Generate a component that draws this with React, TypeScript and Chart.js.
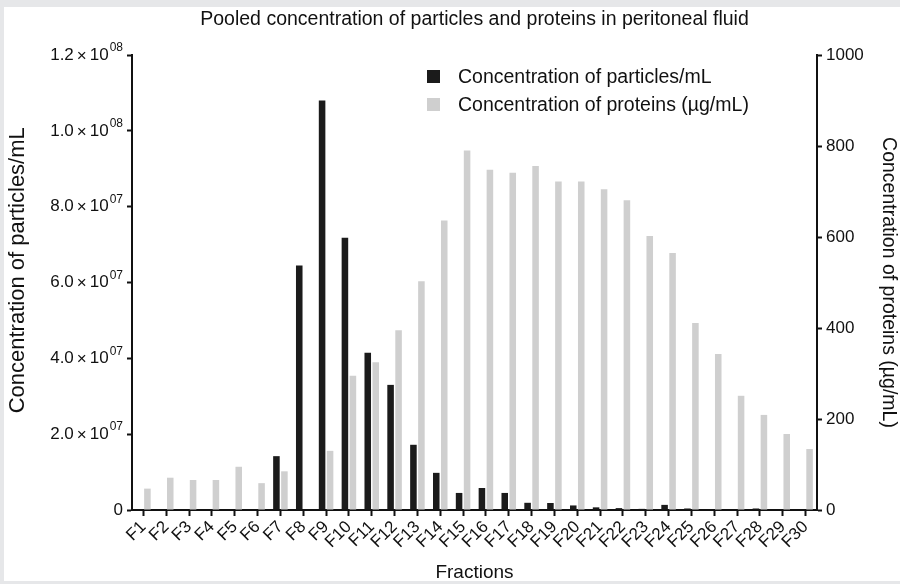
import React, { useEffect, useRef } from "react";
import { Chart, registerables } from "chart.js";

Chart.register(...registerables);

const FONT = "'Liberation Sans', Arial, Helvetica, sans-serif";

const chartTitle = "Pooled concentration of particles and proteins in peritoneal fluid";
const xAxisTitle = "Fractions";
const leftAxisTitle = "\u00A0\u00A0\u00A0\u00A0Concentration of particles/mL";
const rightAxisTitle = "Concentration of proteins (\u00B5g/mL)";

const categories = [
  "F1", "F2", "F3", "F4", "F5", "F6", "F7", "F8", "F9", "F10",
  "F11", "F12", "F13", "F14", "F15", "F16", "F17", "F18", "F19", "F20",
  "F21", "F22", "F23", "F24", "F25", "F26", "F27", "F28", "F29", "F30",
];

const particles = [
  0, 0, 0, 0, 0, 0, 1.42e7, 6.45e7, 1.08e8, 7.18e7,
  4.15e7, 3.3e7, 1.72e7, 0.98e7, 0.45e7, 0.58e7, 0.45e7, 1.9e6, 1.85e6, 1.2e6,
  0.7e6, 0.5e6, 0.3e6, 1.35e6, 0.4e6, 0.2e6, 0, 0.4e6, 0, 0,
];

const proteins = [
  47, 71, 66, 66, 95, 59, 85, 0, 130, 295,
  325, 395, 503, 636, 790, 748, 741, 756, 722, 722,
  705, 681, 602, 565, 411, 343, 251, 209, 167, 134,
];

const seriesNames = ["Concentration of particles/mL", "Concentration of proteins (\u00B5g/mL)"];
const seriesColors = ["#1b1b1b", "#cfcfcf"];

const leftTickValues = [0, 2e7, 4e7, 6e7, 8e7, 1e8, 1.2e8];
const leftTickMantissa = ["0", "2.0", "4.0", "6.0", "8.0", "1.0", "1.2"];
const leftTickExponent = ["", "07", "07", "07", "07", "08", "08"];
const rightTickValues = [0, 200, 400, 600, 800, 1000];
const rightTickLabels = ["0", "200", "400", "600", "800", "1000"];

const sciTickPlugin = {
  id: "sciTicks",
  afterDraw(chart: any) {
    const s = chart.scales.y;
    const ctx = chart.ctx;
    ctx.save();
    ctx.fillStyle = "#111";
    ctx.textBaseline = "middle";
    ctx.textAlign = "left";
    const baseFont = `17px ${FONT}`;
    const supFont = `12px ${FONT}`;
    const right = s.right - 5 - 4;
    leftTickValues.forEach((v, i) => {
      const y = s.getPixelForValue(v);
      const m = leftTickMantissa[i];
      const e = leftTickExponent[i];
      if (!e) {
        ctx.font = baseFont;
        const w = ctx.measureText(m).width;
        ctx.fillText(m, right - w, y);
        return;
      }
      ctx.font = baseFont;
      const wm = ctx.measureText(m).width;
      const wx = ctx.measureText("\u00D7").width;
      const wt = ctx.measureText("10").width;
      ctx.font = supFont;
      const we = ctx.measureText(e).width;
      const gap = 3;
      const total = wm + gap + wx + gap + wt + 1 + we;
      let x = right - total;
      ctx.font = baseFont;
      ctx.fillText(m, x, y);
      x += wm + gap;
      ctx.fillText("\u00D7", x, y + 1);
      x += wx + gap;
      ctx.fillText("10", x, y);
      x += wt + 1;
      ctx.font = supFont;
      ctx.fillText(e, x, y - 7);
    });
    ctx.restore();
  },
};

export default function App() {
  const canvasRef = useRef<HTMLCanvasElement | null>(null);

  useEffect(() => {
    document.body.style.margin = "0";
    const canvas = canvasRef.current;
    if (!canvas) return;
    const chart = new Chart(canvas, {
      type: "bar",
      data: {
        labels: categories,
        datasets: [
          {
            label: seriesNames[0],
            data: particles,
            backgroundColor: seriesColors[0],
            borderWidth: 0,
            yAxisID: "y",
            barPercentage: 0.82,
            categoryPercentage: 0.7,
          },
          {
            label: seriesNames[1],
            data: proteins,
            backgroundColor: seriesColors[1],
            borderWidth: 0,
            yAxisID: "y1",
            barPercentage: 0.82,
            categoryPercentage: 0.7,
          },
        ],
      },
      plugins: [sciTickPlugin],
      options: {
        animation: false,
        responsive: false,
        layout: { padding: 0 },
        plugins: {
          legend: { display: false },
          tooltip: { enabled: false },
          title: {
            display: true,
            fullSize: false,
            text: chartTitle,
            color: "#111",
            font: { family: FONT, size: 19.5, weight: "normal", lineHeight: 1.2 },
            padding: { top: 8, bottom: 23.6 },
          },
        },
        scales: {
          x: {
            type: "category",
            offset: true,
            grid: {
              display: true,
              drawOnChartArea: false,
              offset: false,
              tickLength: 6,
              tickWidth: 2,
              tickColor: "#111",
            },
            border: { display: true, color: "#111", width: 2 },
            ticks: {
              autoSkip: false,
              minRotation: 45,
              maxRotation: 45,
              color: "#111",
              padding: 1,
              font: { family: FONT, size: 17 },
            },
            title: {
              display: true,
              text: xAxisTitle,
              color: "#111",
              font: { family: FONT, size: 19, lineHeight: 1.2 },
              padding: { top: 0, bottom: 0 },
            },
            afterFit: (s: any) => {
              s.height = 74;
            },
          },
          y: {
            type: "linear",
            position: "left",
            min: 0,
            max: 1.2e8,
            afterBuildTicks: (s: any) => {
              s.ticks = leftTickValues.map((v) => ({ value: v }));
            },
            ticks: {
              color: "#111",
              padding: 4,
              font: { family: FONT, size: 17 },
              callback: () => "",
            },
            grid: {
              drawOnChartArea: false,
              tickLength: 5,
              tickWidth: 2,
              tickColor: "#111",
            },
            border: { display: true, color: "#111", width: 2 },
            title: {
              display: true,
              text: leftAxisTitle,
              color: "#111",
              font: { family: FONT, size: 22, lineHeight: 1.2 },
              padding: { top: 5, bottom: 0 },
            },
            afterFit: (s: any) => {
              s.width = 132;
            },
          },
          y1: {
            type: "linear",
            position: "right",
            min: 0,
            max: 1000,
            afterBuildTicks: (s: any) => {
              s.ticks = rightTickValues.map((v) => ({ value: v }));
            },
            ticks: {
              color: "#111",
              padding: 4,
              font: { family: FONT, size: 17 },
              callback: (v: any) => rightTickLabels[rightTickValues.indexOf(Number(v))] ?? "",
            },
            grid: {
              drawOnChartArea: false,
              tickLength: 5,
              tickWidth: 2,
              tickColor: "#111",
            },
            border: { display: true, color: "#111", width: 2 },
            title: {
              display: true,
              text: rightAxisTitle,
              color: "#111",
              font: { family: FONT, size: 19.5, lineHeight: 1.2 },
              padding: { top: 0, bottom: 0 },
            },
            afterFit: (s: any) => {
              s.width = 83;
            },
          },
        },
      },
    });
    return () => chart.destroy();
  }, []);

  return (
    <div style={{ position: "relative", width: 900, height: 584, background: "#e6e7e9", overflow: "hidden" }}>
      <div style={{ position: "absolute", left: 4, top: 7, width: 896, height: 574, background: "#ffffff" }} />
      <canvas
        ref={canvasRef}
        width={900}
        height={584}
        style={{ position: "absolute", left: 0, top: 0, width: 900, height: 584 }}
      />
      <div
        style={{
          position: "absolute",
          left: 427,
          top: 62,
          fontFamily: FONT,
          fontSize: 19.5,
          color: "#111",
        }}
      >
        {seriesNames.map((name, i) => (
          <div key={name} style={{ display: "flex", alignItems: "center", height: 28, whiteSpace: "nowrap" }}>
            <span
              style={{
                display: "inline-block",
                width: 13,
                height: 13,
                background: seriesColors[i],
                marginRight: 18,
              }}
            />
            <span>{name}</span>
          </div>
        ))}
      </div>
    </div>
  );
}
